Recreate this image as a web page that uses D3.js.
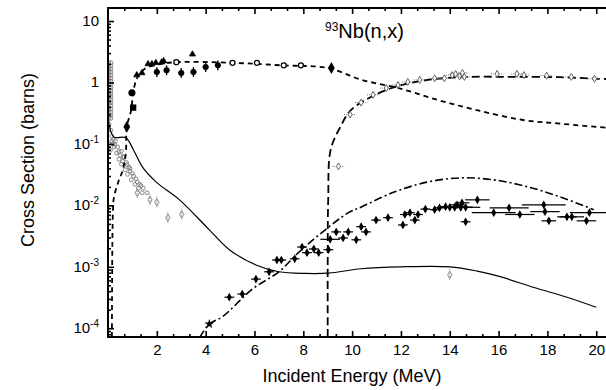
<!DOCTYPE html>
<html lang="en">
<head>
<meta charset="UTF-8">
<title>93Nb(n,x)</title>
<script src="https://d3js.org/d3.v7.min.js"></script>
<style>
  body { margin: 0; background: #fff; }
  svg { font-family: 'Liberation Sans', Arial, sans-serif; }
  .curve { fill: none; stroke: #000; }
</style>
</head>
<body>
<svg width="606" height="390"></svg>
<script>
// evaluated curves (energy in MeV, cross section in barns)
const nnE  = [0.16, 0.2, 0.24, 0.41, 0.61, 0.73, 0.77, 0.95, 1.03, 1.2, 1.5, 2.0, 2.8, 5.1, 7.1, 9.0, 10.4, 11.9, 13.5, 15.1, 17.0, 18.5, 20.4];
const nnS  = [7.2e-5, 7.6e-3, 0.0132, 0.0234, 0.038, 0.071, 0.19, 0.355, 0.68, 1.2, 1.66, 1.95, 2.14, 2.09, 1.9, 1.72, 1.1, 0.81, 0.52, 0.355, 0.245, 0.214, 0.184];
const n2nE = [9.0, 9.0, 9.02, 9.12, 9.52, 9.95, 10.75, 11.85, 13.1, 14.7, 16.5, 18.5, 20.0, 20.4];
const n2nS = [7.2e-5, 1e-3, 0.012, 0.08, 0.19, 0.355, 0.575, 0.87, 1.1, 1.23, 1.23, 1.22, 1.15, 1.14];
const npE  = [3.76, 4.15, 4.7, 5.9, 7.0, 7.8, 8.9, 9.85, 10.4, 11.75, 13.1, 14.45, 15.8, 17.2, 18.5, 19.9];
const npS  = [7.1e-5, 1.17e-4, 1.55e-4, 4.3e-4, 8.3e-4, 1.7e-3, 4.0e-3, 7.6e-3, 9.5e-3, 0.0166, 0.024, 0.028, 0.026, 0.02, 0.0138, 8.5e-3];
const capE = [0.01, 0.04, 0.24, 0.73, 1.05, 1.43, 2.0, 2.93, 4.15, 4.97, 6.06, 7.0, 8.1, 9.03, 10.37, 12.0, 14.0, 15.13, 16.07, 17.45, 18.8, 20.0];
const capS = [0.32, 0.21, 0.13, 0.126, 0.079, 0.041, 0.0234, 0.0123, 4.0e-3, 1.9e-3, 1.07e-3, 8.3e-4, 7.8e-4, 7.9e-4, 9.3e-4, 1.0e-3, 1.0e-3, 8.5e-4, 6.9e-4, 4.6e-4, 3.2e-4, 2.2e-4];

// measured data
const nnTriE  = [1.18, 1.39, 1.64, 1.8, 1.96, 2.2, 2.28, 3.46];
const nnTriS  = [1.32, 1.43, 2.0, 2.0, 2.09, 2.14, 2.24, 2.88];
const nnDotE  = [2.0, 2.4, 3.0, 3.5, 4.0, 4.5];
const nnDotS  = [1.48, 1.58, 1.43, 1.48, 1.78, 1.9];
const nnOpenE = [2.8, 5.1, 6.1, 7.2, 7.9];
const nnOpenS = [2.14, 2.09, 2.09, 1.9, 1.9];
const nnMiscE = [0.77, 1.03, 0.98, 9.15];
const nnMiscS = [0.19, 0.39, 0.68, 1.72];
const nnMiscShape = ["diamond", "square", "circle", "diamond"];

const n2nDatE = [9.44, 9.92, 10.37, 10.86, 11.4, 11.88, 12.28, 12.77, 13.38, 13.78, 14.1, 14.24, 14.4, 14.52, 14.6, 15.94, 16.75, 17.04, 17.97, 18.98, 19.93];
const n2nDatS = [0.043, 0.30, 0.47, 0.63, 0.81, 0.91, 1.02, 1.10, 1.17, 1.17, 1.32, 1.38, 1.26, 1.43, 1.23, 1.38, 1.38, 1.32, 1.29, 1.23, 1.15];

const npDatE  = [4.97, 5.5, 6.06, 6.6, 6.92, 7.1, 7.65, 7.95, 8.15, 8.43, 8.63, 9.03, 9.1, 9.35, 9.63, 9.84, 10.17, 10.37, 10.57, 10.98, 11.47, 12.08, 12.16, 12.37, 12.57, 12.7, 13.0, 13.38, 13.58, 13.83, 14.0, 14.2, 14.3, 14.45, 14.5, 14.65, 14.65, 15.13, 15.8, 16.43, 16.87, 17.85, 17.9, 18.06, 18.8, 19.0, 19.6, 19.72];
const npDatS  = [3.2e-4, 3.6e-4, 6.3e-4, 8.3e-4, 1.29e-3, 1.29e-3, 1.35e-3, 2.1e-3, 1.7e-3, 1.95e-3, 1.7e-3, 1.9e-3, 2.8e-3, 3.7e-3, 2.95e-3, 3.7e-3, 2.75e-3, 4.5e-3, 3.7e-3, 5.75e-3, 6.3e-3, 4.8e-3, 7.1e-3, 7.6e-3, 5.75e-3, 7.1e-3, 8.7e-3, 8.5e-3, 9.1e-3, 9.5e-3, 9.3e-3, 9.3e-3, 0.0102, 9.3e-3, 0.011, 9.3e-3, 5.4e-3, 0.0123, 7.6e-3, 9.1e-3, 7.1e-3, 0.0102, 7.9e-3, 5.6e-3, 6.5e-3, 6.5e-3, 5.6e-3, 7.6e-3];
const npDatDE = [0.2, 0.2, 0.2, 0.2, 0.2, 0.2, 0.2, 0.2, 0.2, 0.2, 0.2, 0.2, 0.4, 0.2, 0.2, 0.2, 0.2, 0.2, 0.2, 0.2, 0.2, 0.2, 0.2, 0.2, 0.2, 0.2, 0.2, 0.2, 0.2, 0.2, 0.5, 0.7, 0.3, 0.5, 0.3, 0.6, 0.2, 0.5, 0.9, 0.8, 0.6, 0.9, 0.6, 0.3, 0.4, 0.5, 0.4, 0.8];

const capDatE = [1.2, 1.72, 2.0, 2.45, 3.02, 14.0];
const capDatS = [0.016, 0.0123, 0.0112, 6.3e-3, 7.1e-3, 7.4e-4];

// dense low-energy capture data (grey band)
const bandE = [0.04, 0.12, 0.04, 0.12, 0.04, 0.12, 0.04, 0.12, 0.04, 0.12, 0.04, 0.12, 0.04, 0.12, 0.04, 0.12, 0.04, 0.12, 0.04, 0.12, 0.04, 0.12, 0.04, 0.12, 0.04, 0.12,
  0.04, 0.12, 0.04, 0.12, 0.04, 0.12, 0.04, 0.12, 0.04, 0.12, 0.04, 0.12, 0.04, 0.12,
  0.05, 0.1, 0.15, 0.3, 0.25, 0.4, 0.35, 0.55, 0.45, 0.65, 0.55, 0.75, 0.7, 0.9, 0.8, 1.0, 0.95, 1.15, 1.1, 1.3, 1.25, 1.45, 1.4, 1.6,
  0.2, 0.5, 0.6, 0.85, 1.05, 0.28, 0.45, 0.62, 0.78, 0.9, 1.2, 1.35, 0.15, 0.22];
const bandS = [2.1, 2.1, 1.85, 1.85, 1.66, 1.66, 1.48, 1.48, 1.32, 1.32, 1.18, 1.18, 1.05, 1.05, 0.93, 0.93, 0.83, 0.83, 0.74, 0.74, 0.66, 0.66, 0.59, 0.59, 0.52, 0.52,
  0.47, 0.47, 0.42, 0.42, 0.37, 0.37, 0.33, 0.33, 0.29, 0.29, 0.26, 0.26, 0.21, 0.166,
  0.1, 0.079, 0.112, 0.112, 0.089, 0.089, 0.071, 0.076, 0.056, 0.06, 0.047, 0.05, 0.038, 0.04, 0.032, 0.033, 0.026, 0.027, 0.022, 0.022, 0.019, 0.019, 0.016, 0.016,
  0.1, 0.065, 0.052, 0.042, 0.03, 0.098, 0.075, 0.062, 0.046, 0.036, 0.024, 0.021, 0.135, 0.118];

const xMajor = [2, 4, 6, 8, 10, 12, 14, 16, 18, 20];
const yMajor = [1e-4, 1e-3, 1e-2, 1e-1, 1, 10];
const yLabels = [["10", "-4"], ["10", "-3"], ["10", "-2"], ["10", "-1"], ["1", ""], ["10", ""]];

const svg = d3.select("svg");
const pL = 108, pR = 606, pT = 8, pB = 337;

const x = d3.scaleLinear().domain([0, 20.4]).range([pL, pR]);
const y = d3.scaleLog().domain([7.2e-5, 16.3]).range([pB, pT]);

svg.append("defs").append("clipPath").attr("id", "plot")
  .append("rect").attr("x", pL).attr("y", pT).attr("width", pR - pL).attr("height", pB - pT);

const plot = svg.append("g").attr("clip-path", "url(#plot)");

// x ticks, minor every 2/3 MeV
const xMinor = d3.range(0, 31).map(k => k * 2 / 3).filter((v, k) => k % 3 !== 0 && v <= 20.4);
const yMinor = [];
[1e-5, 1e-4, 1e-3, 1e-2, 1e-1, 1, 10].forEach(d => {
  for (let m = 2; m <= 9; m++) {
    const v = d * m;
    if (v > 7.2e-5 && v < 16.3) yMinor.push(v);
  }
});

function styleAxis(g) {
  g.select(".domain").remove();
  g.selectAll("line").attr("stroke", "#000").attr("stroke-width", 1.6);
}

svg.append("g").attr("transform", `translate(0,${pB})`)
  .call(d3.axisBottom(x).tickValues(xMinor).tickSize(-3).tickFormat(""))
  .call(styleAxis);
svg.append("g").attr("transform", `translate(0,${pB})`)
  .call(d3.axisBottom(x).tickValues(xMajor).tickSize(-6).tickPadding(7))
  .call(styleAxis)
  .selectAll("text").attr("font-size", 15).attr("fill", "#000")
  .attr("font-family", "'Liberation Sans', Arial, sans-serif");

svg.append("g").attr("transform", `translate(0,${pT})`)
  .call(d3.axisTop(x).tickValues(xMinor).tickSize(-3).tickFormat(""))
  .call(styleAxis);
svg.append("g").attr("transform", `translate(0,${pT})`)
  .call(d3.axisTop(x).tickValues(xMajor).tickSize(-6).tickFormat(""))
  .call(styleAxis);

svg.append("g").attr("transform", `translate(${pL},0)`)
  .call(d3.axisLeft(y).tickValues(yMinor).tickSize(-3).tickFormat(""))
  .call(styleAxis);
svg.append("g").attr("transform", `translate(${pL},0)`)
  .call(d3.axisLeft(y).tickValues(yMajor).tickSize(-6).tickFormat(""))
  .call(styleAxis);

yMajor.forEach((v, i) => {
  const t = svg.append("text")
    .attr("x", 99)
    .attr("y", y(v) + 5)
    .attr("text-anchor", "end")
    .attr("font-size", 15);
  t.append("tspan").text(yLabels[i][0]);
  if (yLabels[i][1]) {
    t.append("tspan").attr("font-size", 10).attr("dy", -6).text(yLabels[i][1]);
  }
});

// frame
svg.append("path")
  .attr("d", `M${pR},${pT}H${pL}V${pB}H${pR}`)
  .attr("fill", "none").attr("stroke", "#000").attr("stroke-width", 2);

// grey capture band
plot.append("g").selectAll("circle")
  .data(d3.zip(bandE, bandS))
  .join("circle")
  .attr("cx", d => x(d[0])).attr("cy", d => y(d[1])).attr("r", 1.9)
  .attr("fill", "none").attr("stroke", "#7a7a7a").attr("stroke-width", 0.9);

plot.append("g").selectAll("g")
  .data(d3.zip(capDatE, capDatS))
  .join("g")
  .each(function(d) {
    const g = d3.select(this);
    g.append("line").attr("x1", x(d[0])).attr("x2", x(d[0]))
      .attr("y1", y(d[1] * 1.25)).attr("y2", y(d[1] / 1.25))
      .attr("stroke", "#888").attr("stroke-dasharray", "1,1");
    g.append("path").attr("transform", `translate(${x(d[0])},${y(d[1])})`)
      .attr("d", d3.symbol(d3.symbolDiamond, 16)())
      .attr("fill", "none").attr("stroke", "#888");
  });

// curves
const line = d3.line().x(d => x(d[0])).y(d => y(d[1])).curve(d3.curveCatmullRom.alpha(0.5));

plot.append("path").datum(d3.zip(capE, capS)).attr("class", "curve")
  .attr("stroke-width", 1.2).attr("d", line);
plot.append("path").datum(d3.zip(nnE, nnS)).attr("class", "curve")
  .attr("stroke-width", 1.8).attr("stroke-dasharray", "5,4").attr("d", line);
plot.append("path").datum(d3.zip(n2nE, n2nS)).attr("class", "curve")
  .attr("stroke-width", 1.8).attr("stroke-dasharray", "8,4").attr("d", line);
plot.append("path").datum(d3.zip(npE, npS)).attr("class", "curve")
  .attr("stroke-width", 1.6).attr("stroke-dasharray", "8,3,2,3").attr("d", line);

// (n,2n) data: small grey diamonds with dotted error bars
plot.append("g").selectAll("g")
  .data(d3.zip(n2nDatE, n2nDatS))
  .join("g")
  .each(function(d) {
    const g = d3.select(this);
    g.append("line").attr("x1", x(d[0])).attr("x2", x(d[0]))
      .attr("y1", y(d[1] * 1.12)).attr("y2", y(d[1] / 1.12))
      .attr("stroke", "#777").attr("stroke-dasharray", "1,1");
    g.append("line").attr("x1", x(d[0] - 0.25)).attr("x2", x(d[0] + 0.25))
      .attr("y1", y(d[1])).attr("y2", y(d[1]))
      .attr("stroke", "#777").attr("stroke-dasharray", "1,1");
    g.append("path").attr("transform", `translate(${x(d[0])},${y(d[1])})`)
      .attr("d", d3.symbol(d3.symbolDiamond, 14)())
      .attr("fill", "#fff").attr("stroke", "#666");
  });

// (n,p) data: filled diamonds with horizontal error bars
plot.append("g").selectAll("g")
  .data(d3.zip(npDatE, npDatS, npDatDE))
  .join("g")
  .each(function(d) {
    const g = d3.select(this);
    g.append("line").attr("x1", x(d[0] - d[2])).attr("x2", x(d[0] + d[2]))
      .attr("y1", y(d[1])).attr("y2", y(d[1]))
      .attr("stroke", "#000").attr("stroke-width", 1.2);
    g.append("line").attr("x1", x(d[0])).attr("x2", x(d[0]))
      .attr("y1", y(d[1] * 1.12)).attr("y2", y(d[1] / 1.12))
      .attr("stroke", "#000");
    g.append("path").attr("transform", `translate(${x(d[0])},${y(d[1])})`)
      .attr("d", d3.symbol(d3.symbolDiamond, 22)())
      .attr("fill", "#000");
  });
plot.append("path").attr("transform", `translate(${x(npE[1])},${y(npS[1])})`)
  .attr("d", d3.symbol(d3.symbolStar, 30)()).attr("fill", "#000");

// (n,n') data
plot.append("g").selectAll("path")
  .data(d3.zip(nnTriE, nnTriS))
  .join("path")
  .attr("transform", d => `translate(${x(d[0])},${y(d[1])})`)
  .attr("d", d3.symbol(d3.symbolTriangle, 16)())
  .attr("fill", "#000").attr("stroke", "#000").attr("stroke-width", 0.8);

plot.append("g").selectAll("g")
  .data(d3.zip(nnDotE, nnDotS))
  .join("g")
  .each(function(d) {
    const g = d3.select(this);
    g.append("line").attr("x1", x(d[0])).attr("x2", x(d[0]))
      .attr("y1", y(d[1] * 1.2)).attr("y2", y(d[1] / 1.2))
      .attr("stroke", "#000").attr("stroke-width", 1.4);
    g.append("line").attr("x1", x(d[0] - 0.12)).attr("x2", x(d[0] + 0.12))
      .attr("y1", y(d[1])).attr("y2", y(d[1]))
      .attr("stroke", "#000").attr("stroke-width", 1.4);
    g.append("circle").attr("cx", x(d[0])).attr("cy", y(d[1])).attr("r", 3).attr("fill", "#000");
  });

plot.append("g").selectAll("circle")
  .data(d3.zip(nnOpenE, nnOpenS))
  .join("circle")
  .attr("cx", d => x(d[0])).attr("cy", d => y(d[1])).attr("r", 2.5)
  .attr("fill", "#fff").attr("stroke", "#000").attr("stroke-width", 1.3);

const shapes = { diamond: d3.symbolDiamond, square: d3.symbolSquare, circle: d3.symbolCircle };
plot.append("g").selectAll("path")
  .data(d3.zip(nnMiscE, nnMiscS, nnMiscShape))
  .join("path")
  .attr("transform", d => `translate(${x(d[0])},${y(d[1])})`)
  .attr("d", d => d3.symbol(shapes[d[2]], 40)())
  .attr("fill", "#000");

// titles
const title = svg.append("text").attr("x", 325).attr("y", 38);
title.append("tspan").attr("font-size", 12).attr("dy", -7).text("93");
title.append("tspan").attr("font-size", 20).attr("dy", 7).text("Nb(n,x)");

svg.append("text")
  .attr("x", 352).attr("y", 382)
  .attr("text-anchor", "middle").attr("font-size", 18)
  .text("Incident Energy (MeV)");

svg.append("text")
  .attr("transform", "translate(34,160) rotate(-90)")
  .attr("text-anchor", "middle").attr("font-size", 18)
  .text("Cross Section (barns)");
</script>
</body>
</html>
